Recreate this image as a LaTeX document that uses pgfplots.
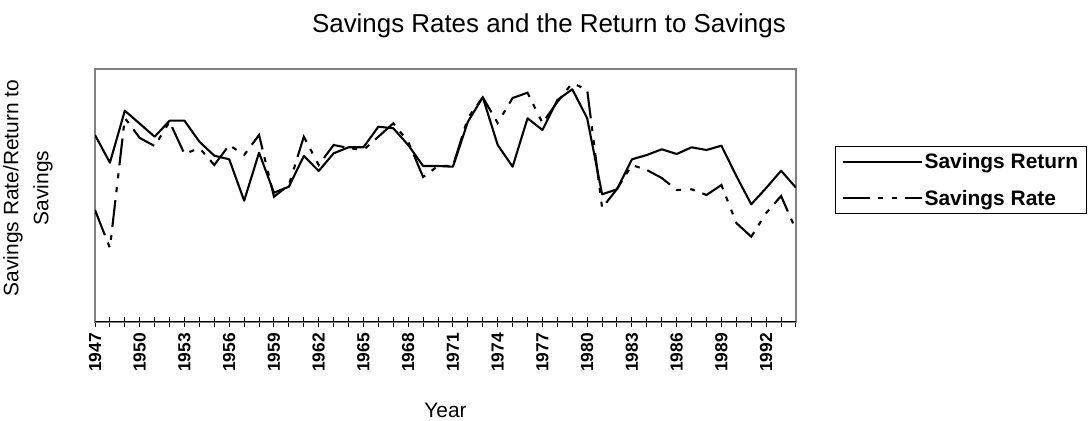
\documentclass[border=0pt]{standalone}
\usepackage{pgfplots}
\pgfplotsset{compat=1.18}
\usepackage{fontspec}
\setmainfont{Liberation Sans}
\begin{document}
\begin{tikzpicture}
\useasboundingbox (0,0) rectangle (1089bp,421bp);
\begin{axis}[
  scale only axis,
  width=701bp, height=253bp,
  at={(95bp,99bp)}, anchor=south west,
  xmin=1947, xmax=1994, ymin=0, ymax=253,
  ytick=\empty,
  xtick={1947,...,1994},
  xticklabels={1947,,,1950,,,1953,,,1956,,,1959,,,1962,,,1965,,,1968,,,1971,,,1974,,,1977,,,1980,,,1983,,,1986,,,1989,,,1992,,},
  tick align=center,
  major tick length=10bp,
  tick style={black, line width=1bp},
  xtick pos=bottom,
  xticklabel shift=4bp,
  xticklabel style={rotate=90, anchor=east, font=\fontsize{17.5}{17.5}\selectfont\bfseries, inner sep=2bp},
  axis line style={gray, line width=1.5bp},
  title={Savings Rates and the Return to Savings},
  title style={at={(axis description cs:0.6476,1.146)}, anchor=center, font=\fontsize{26}{26}\selectfont},
  xlabel={Year},
  xlabel style={at={(axis description cs:0.5,-0.348)}, anchor=center, font=\fontsize{21}{21}\selectfont},
  ylabel={Savings Rate/Return to\\Savings},
  ylabel style={at={(axis description cs:-0.0956,0.53)}, anchor=center, rotate=0, align=center, font=\fontsize{21}{30}\selectfont},
  legend style={at={(axis description cs:1.0557,0.6957)}, anchor=north west, draw=black, line width=1bp,
    font=\fontsize{21}{21}\selectfont\bfseries, row sep=16bp, inner xsep=6bp, inner ysep=5bp},
  legend cell align=left,
  legend image code/.code={\draw[#1] (0bp,0bp) -- (79bp,0bp);},
]
\addplot[black, line width=2.1bp, line join=round] coordinates {
(1947,187) (1948,159.3) (1949,211.3) (1950,198.3) (1951,185.3) (1952,201.3) (1953,201.3) (1954,180.3)
(1955,166.3) (1956,162.7) (1957,121.3) (1958,169.3) (1959,129.3) (1960,135.3) (1961,166) (1962,151)
(1963,168.7) (1964,174.7) (1965,174.7) (1966,195.3) (1967,193.7) (1968,177) (1969,156) (1970,156)
(1971,155.3) (1972,200.3) (1973,224.7) (1974,177) (1975,155.3) (1976,203.7) (1977,192) (1978,222)
(1979,232.7) (1980,203.7) (1981,127.7) (1982,132.7) (1983,162.7) (1984,167) (1985,172.7) (1986,168)
(1987,174.7) (1988,172) (1989,176.3) (1990,146) (1991,117.7) (1992,134) (1993,151.3) (1994,134.3)
};
\addlegendentry{Savings Return\hspace{40bp}}
\addplot[black, line width=2.1bp, dash pattern=on 27bp off 8bp on 5bp off 9bp on 5bp off 8bp] coordinates {
(1947,112) (1948,74) (1949,204) (1950,184) (1951,176) (1952,200.3) (1953,168) (1954,174)
(1955,157) (1956,177) (1957,167) (1958,187) (1959,125.3) (1960,137) (1961,185.3) (1962,157)
(1963,177) (1964,174) (1965,172) (1966,185.3) (1967,198.7) (1968,180.3) (1969,145) (1970,156)
(1971,156) (1972,204) (1973,224.7) (1974,199) (1975,224) (1976,229.3) (1977,199) (1978,220)
(1979,239) (1980,232) (1981,114) (1982,133) (1983,157) (1984,152) (1985,144) (1986,132)
(1987,132.7) (1988,127) (1989,137) (1990,99) (1991,85.3) (1992,109) (1993,126) (1994,92)
};
\addlegendentry{Savings Rate}
\draw[black, line width=1.5bp] (rel axis cs:0,0) -- (rel axis cs:1,0);
\end{axis}
\end{tikzpicture}
\end{document}
